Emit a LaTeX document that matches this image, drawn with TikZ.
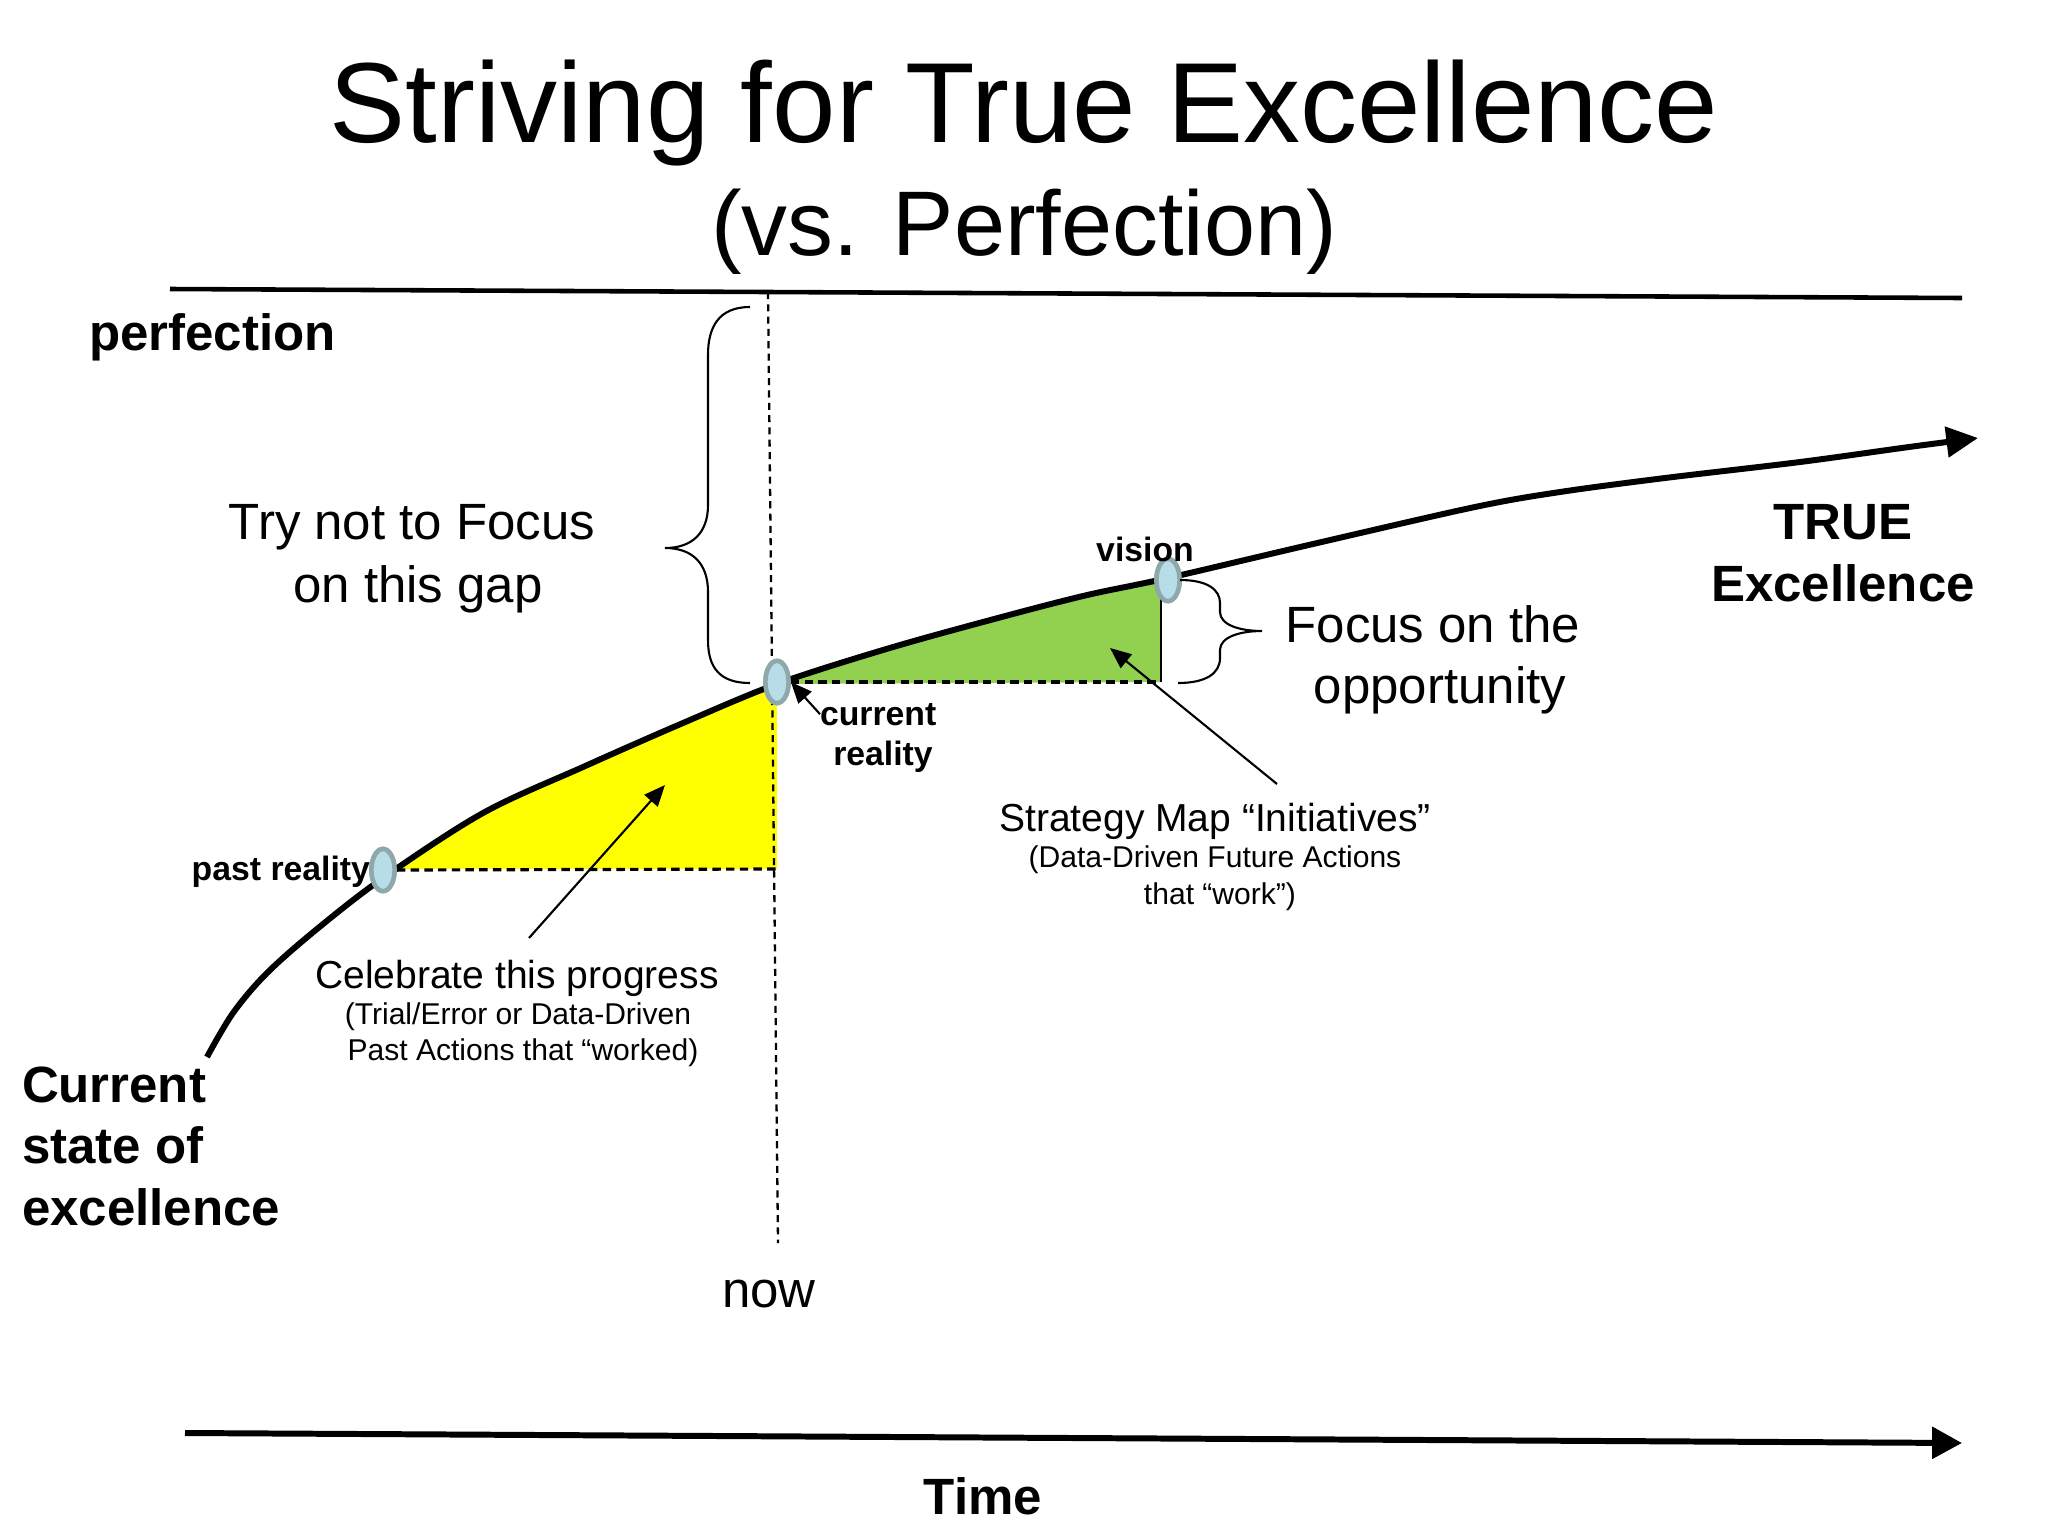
\documentclass[tikz,border=0pt]{standalone}
\usepackage{fontspec}
\setmainfont{Liberation Sans}
\usetikzlibrary{arrows.meta,shapes.geometric}
\definecolor{yel}{HTML}{FFFF00}
\definecolor{grn}{HTML}{92D050}
\definecolor{ovfill}{HTML}{B7DDE8}
\definecolor{ovdraw}{HTML}{8FA8AB}
\newcommand{\fsz}[2]{\fontsize{#1}{#2}\selectfont}
\begin{document}
\begin{tikzpicture}[x=0.01cm,y=-0.01cm,
  txt/.style={inner sep=0pt, outer sep=0pt, anchor=base},
  titletxt/.style={txt, font=\fsz{32.4pt}{38pt}},
  subtxt/.style={txt, font=\fsz{26.1pt}{31pt}},
  bigtxt/.style={txt, font=\fsz{14.5pt}{17.5pt}},
  bigbold/.style={txt, font=\fsz{14.5pt}{17.5pt}\bfseries},
  midtxt/.style={txt, font=\fsz{11.1pt}{13pt}},
  smtxt/.style={txt, font=\fsz{8.55pt}{10pt}},
  lbl/.style={txt, font=\fsz{9.6pt}{11.4pt}\bfseries},
  oval/.style={ellipse, draw=ovdraw, fill=ovfill, line width=1.3pt, minimum width=6.6pt, minimum height=12pt, inner sep=0pt},
  curve/.style={line width=1.7pt, line join=round},
  dashline/.style={line width=0.9pt, dash pattern=on 2.4pt off 1.5pt},
  nowline/.style={line width=0.65pt, dash pattern=on 2pt off 1.5pt},
  pointer/.style={line width=0.6pt, -{Triangle[length=6pt,width=5pt]}},
  bracestyle/.style={line width=0.6pt},
]
\useasboundingbox (0,0) rectangle (2048,1536);
\fill[white] (0,0) rectangle (2048,1536);

% filled areas
\fill[yel] plot[smooth, tension=0.55] coordinates {(388,874) (483,813) (583,767) (683,723) (777,684)} -- (777,869) -- (390,869) -- cycle;
\fill[grn] plot[smooth, tension=0.55] coordinates {(777,684) (883,650) (983,622) (1083,596) (1161,579)} -- (1161,682) -- cycle;

% perfection line
\draw[line width=1.3pt] (170,289) -- (1962,298);

% now line
\draw[nowline] (768,292) -- (778,1243);

% ovals (anchors)
\node[oval] (pastR) at (383,870) {};
\node[oval] (curR) at (777,682) {};
\node[oval] (vis) at (1168,580) {};

% dashed lines
\draw[dashline] (pastR.east) -- (777,869);
\draw[dashline] (curR.east) -- (1161,682);
\draw[line width=0.6pt] (1161,584) -- (1161,682);

% main curve
\draw[curve, -{Triangle[length=9pt,width=8.5pt]}] plot[smooth, tension=0.55] coordinates {(207,1057) (233,1013) (267,973) (317,929) (383,878) (483,813) (583,767) (683,723) (777,684) (883,650) (983,622) (1083,596) (1168,578) (1313,544) (1475,507) (1560,492) (1665,478) (1800,462) (1909,447) (1978,438)};

% ovals on top
\node[oval] at (pastR) {};
\node[oval] at (curR) {};
\node[oval] at (vis) {};

% time axis
\draw[line width=1.7pt, -{Triangle[length=8.5pt,width=8.8pt]}] (185,1433) -- (1962,1443);

% braces
\draw[bracestyle] (750,307) .. controls (718,307) and (708,328) .. (708,355) -- (708,505) .. controls (708,533) and (692,548) .. (665,548) .. controls (692,548) and (708,563) .. (708,592) -- (708,640) .. controls (708,668) and (720,683) .. (750,683);
\draw[bracestyle] (1180,580) .. controls (1208,580) and (1220,590) .. (1220,603) -- (1220,612) .. controls (1220,625) and (1240,631) .. (1262,631) .. controls (1240,631) and (1220,637) .. (1220,650) -- (1220,658) .. controls (1220,674) and (1205,683) .. (1178,683);

% titles
\node[titletxt] (t1) at (1024,142) {Striving for True Excellence};
\node[subtxt] (t2) at (1024,255) {(vs. Perfection)};

% big texts
\node[bigbold, anchor=base west] (perf) at (89,350) {perfection};
\node[bigtxt] (try1) at (412,539) {Try not to Focus};
\node[bigtxt] (try2) at (418,602) {on this gap};
\node[bigbold] (true1) at (1843,539) {TRUE};
\node[bigbold] (true2) at (1843,601) {Excellence};
\node[bigtxt] (foc1) at (1433,642) {Focus on the};
\node[bigtxt] (foc2) at (1440,703) {opportunity};
\node[bigbold, anchor=base west] (cs1) at (22,1102) {Current};
\node[bigbold, anchor=base west] (cs2) at (22,1163) {state of};
\node[bigbold, anchor=base west] (cs3) at (22,1225) {excellence};
\node[bigtxt] (nowL) at (769,1307) {now};
\node[bigbold] (timeL) at (983,1514) {Time};

% point labels
\node[lbl, anchor=base east] (pastL) at (370,880) {past reality};
\node[lbl, anchor=base west] (cr1) at (820,725) {current};
\node[lbl] (cr2) at (883,765) {reality};
\node[lbl] (visL) at (1145,561) {vision};

% celebrate
\node[midtxt] (cel1) at (517,988) {Celebrate this progress};
\node[smtxt] (cel2) at (518,1024) {(Trial/Error or Data-Driven};
\node[smtxt] (cel3) at (523,1060) {Past Actions that “worked)};

% strategy
\node[midtxt] (str1) at (1215,831) {Strategy Map “Initiatives”};
\node[smtxt] (str2) at (1215,867) {(Data-Driven Future Actions};
\node[smtxt] (str3) at (1220,904) {that “work”)};

% pointers
\coordinate (celTail) at (529,938);
\coordinate (celHead) at (665,785);
\coordinate (strTail) at (1277,784);
\coordinate (strHead) at (1110,648);
\draw[pointer] (cr1.west) -- (curR.east);
\draw[pointer] (celTail) -- (celHead);
\draw[pointer] (strTail) -- (strHead);
\end{tikzpicture}
\end{document}
